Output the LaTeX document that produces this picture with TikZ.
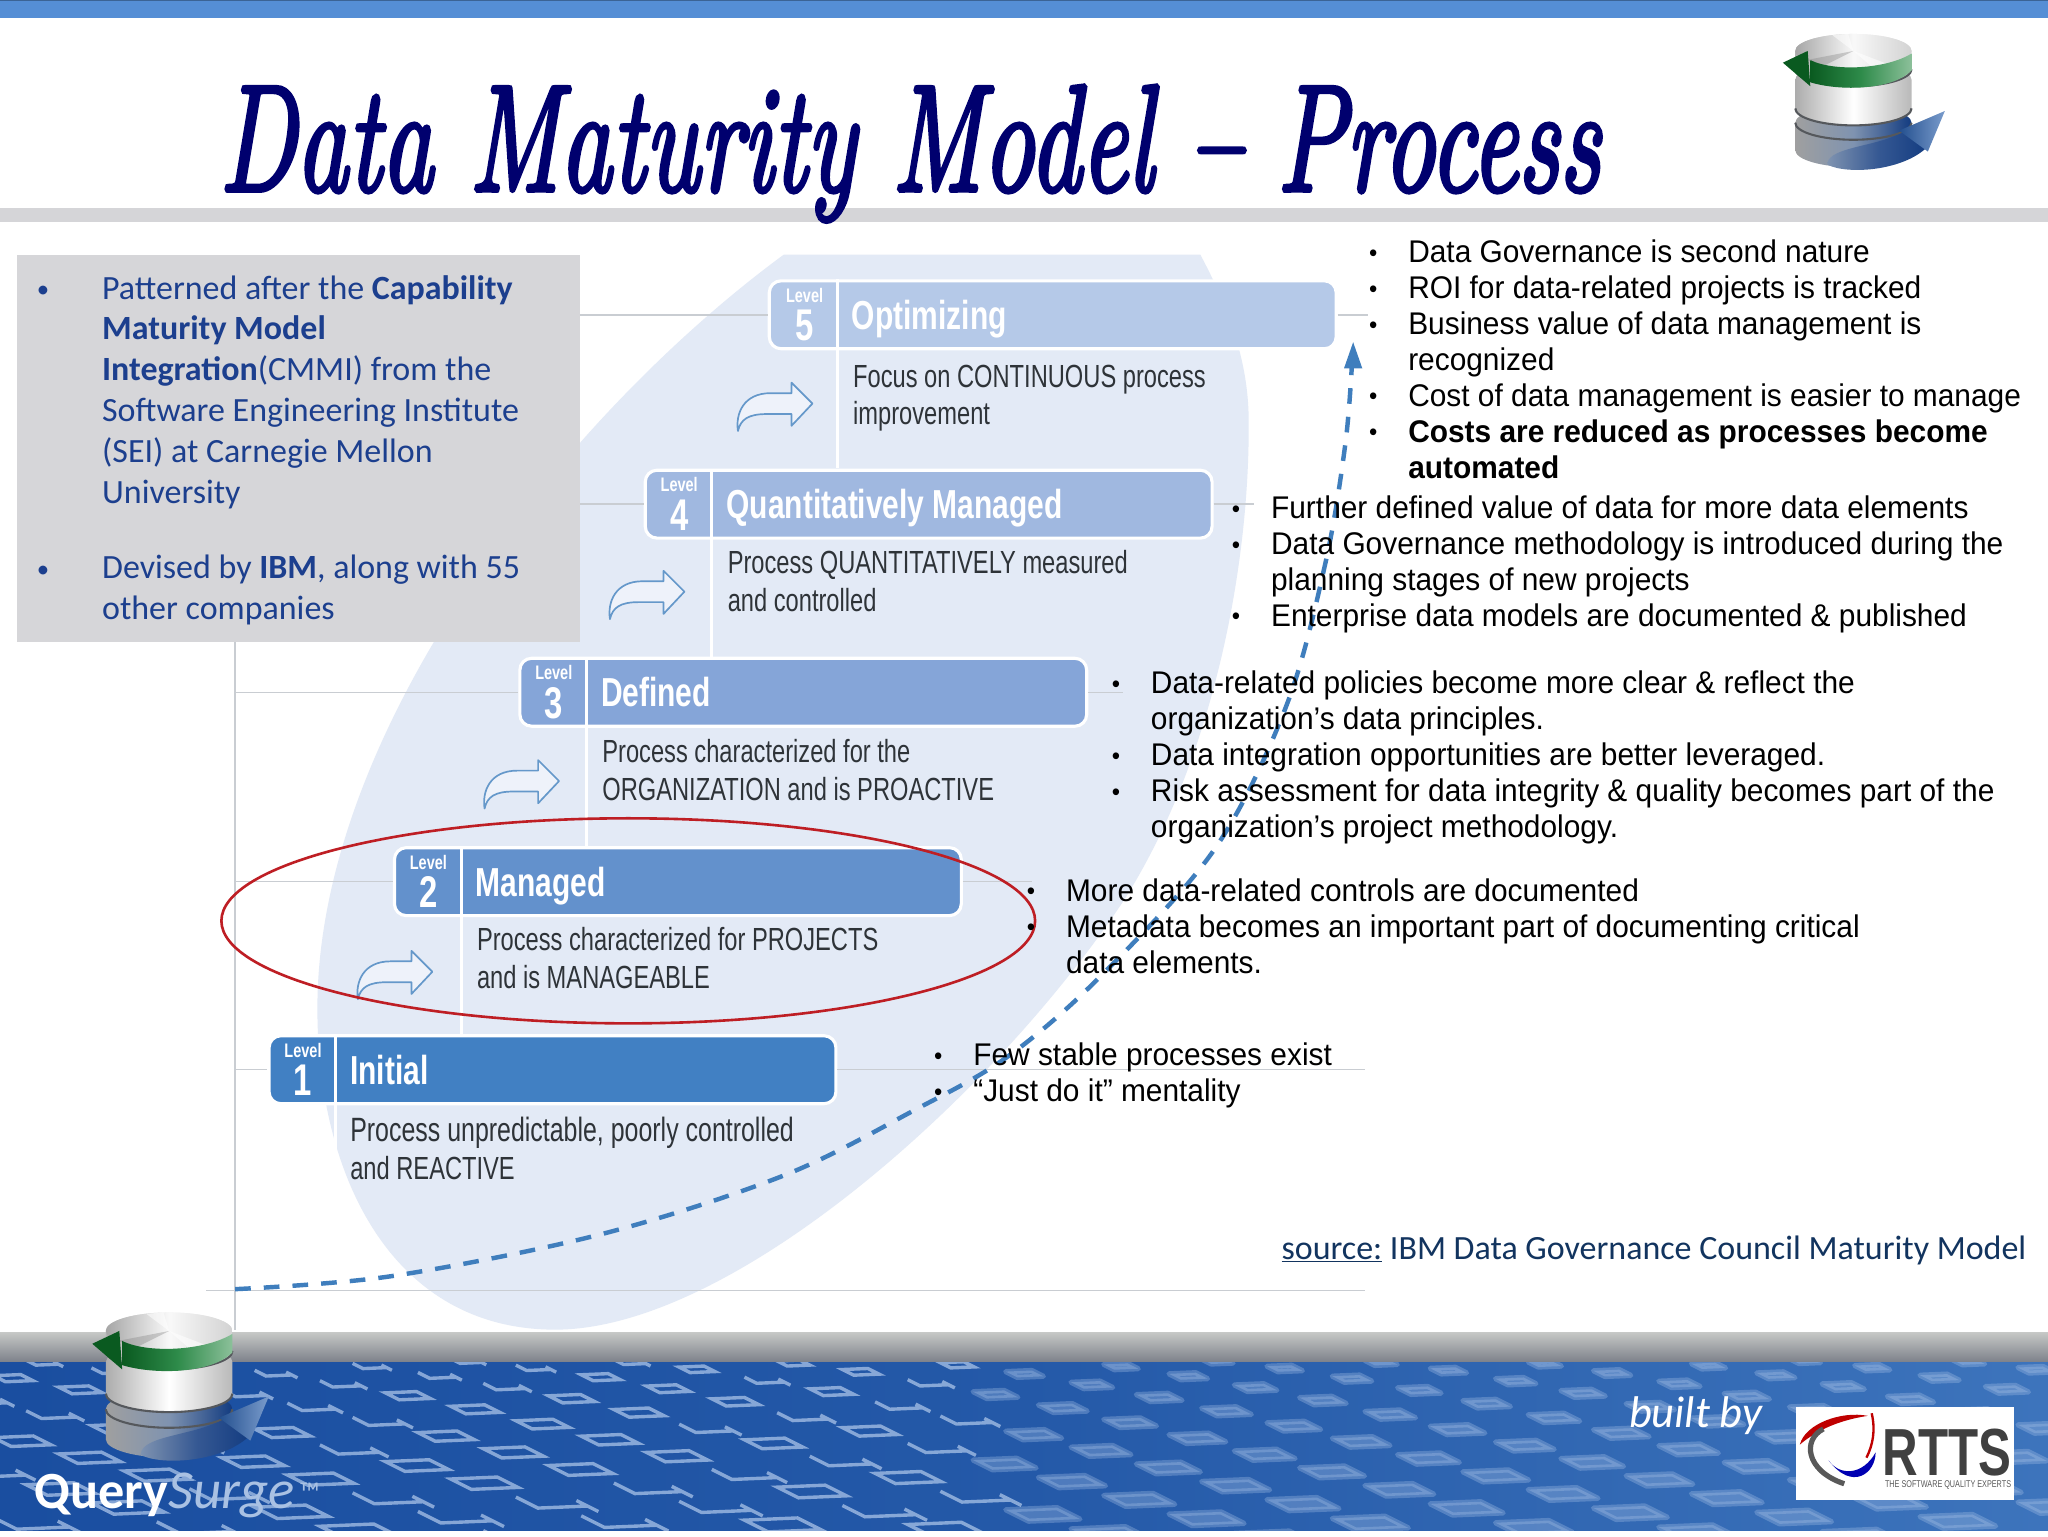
\documentclass[tikz,border=0pt]{standalone}
\usepackage{graphicx}
\usepackage{fontspec}
\usetikzlibrary{arrows.meta,shapes.geometric}
\setmainfont{Liberation Sans}[FakeStretch=0.953]
\newfontfamily\calfam{Carlito}
\newfontfamily\narrowfam[FakeStretch=0.74]{Liberation Sans}
\font\titlefont="[lmroman10-italic]:embolden=3" at 116pt
\definecolor{barblue}{HTML}{558ED5}
\definecolor{rule}{HTML}{D5D5D8}
\definecolor{panelgray}{HTML}{D6D6D9}
\definecolor{leaf}{HTML}{E3EAF6}
\definecolor{guide}{HTML}{C9CDD2}
\definecolor{titlenavy}{HTML}{00006E}
\definecolor{panelblue}{HTML}{1C3F8E}
\definecolor{curveblue}{HTML}{3F7EBD}
\definecolor{ringred}{HTML}{BE1E24}
\definecolor{srcblue}{HTML}{12345F}
\definecolor{descgray}{HTML}{2E3338}
\definecolor{lvA}{HTML}{4180C3}
\definecolor{lvB}{HTML}{6391CC}
\definecolor{lvC}{HTML}{85A5D8}
\definecolor{lvD}{HTML}{A0B8E0}
\definecolor{lvE}{HTML}{B5C9E8}
\definecolor{bandtop}{HTML}{C6C8C6}
\definecolor{bandbot}{HTML}{7C8089}
\definecolor{seaL}{HTML}{1A4EA0}
\definecolor{seaM}{HTML}{2459A8}
\definecolor{seaR}{HTML}{3D74BC}
\definecolor{digitc}{HTML}{A9C3E8}
\definecolor{surgec}{HTML}{A9C1E3}
\definecolor{dbnavy}{HTML}{123B80}
\definecolor{dbsteel}{HTML}{7F93B0}
\definecolor{dbheadL}{HTML}{24508F}
\definecolor{dbheadR}{HTML}{7A9CCC}
\definecolor{dbgreenL}{HTML}{0A5A20}
\definecolor{dbgreenM}{HTML}{2E8B4A}
\definecolor{dbgreenR}{HTML}{8CC09A}
\definecolor{dbdark}{HTML}{55585C}
\newcommand{\smallbul}{\raisebox{1pt}{\fontsize{19}{19}\selectfont •}}
\newcommand{\bitem}[1]{\makebox[30pt][l]{\smallbul}#1}
\newcommand{\cnt}[1]{\makebox[30pt][l]{}#1}
\tikzset{
  guideline/.style={guide,line width=1.1pt},
  levelbox/.style={draw=white,line width=2.4pt,rounded corners=9pt,minimum width=434pt,minimum height=52pt,inner sep=0pt},
  levelhead/.style={text=white,font=\narrowfam\bfseries\fontsize{31}{31}\selectfont,anchor=base west,inner sep=0pt},
  levelword/.style={text=white,font=\narrowfam\bfseries\fontsize{15}{15}\selectfont,inner sep=0pt},
  levelnum/.style={text=white,font=\narrowfam\bfseries\fontsize{34}{34}\selectfont,anchor=base,inner sep=0pt},
  desctext/.style={text=descgray,font=\narrowfam\fontsize{24.5}{29}\selectfont,align=left,anchor=north west,inner sep=0pt},
  listtext/.style={anchor=base west,inner sep=0pt,font=\fontsize{24}{27.5}\selectfont},
  bentarrow/.pic={
    \draw[curveblue!80!white,line width=1.3pt,fill=leaf!60!white,line join=round]
      (0,21) .. controls (-2,8) and (4,-8) .. (25,-8) -- (41,-8) -- (41,-16) -- (57,0) -- (41,17) -- (41,8) -- (22,8)
      .. controls (8,8) and (2,12) .. (0,21) -- cycle;
  },
  dbicon/.pic={
    \shade[left color=gray!75,right color=dbnavy,middle color=dbsteel]
      (-44.5,55) -- (-44.5,76) arc[start angle=180,end angle=0,x radius=44.5,y radius=13] -- (44.5,55) arc[start angle=0,end angle=-180,x radius=44.5,y radius=13] -- cycle;
    \draw[dbdark,line width=1.6pt] (-44.5,55) arc[start angle=180,end angle=0,x radius=44.5,y radius=13];
    \shade[left color=gray!65,right color=gray!55,middle color=white]
      (-44.5,22) -- (-44.5,44) arc[start angle=180,end angle=0,x radius=44.5,y radius=13] -- (44.5,22) arc[start angle=0,end angle=-180,x radius=44.5,y radius=13] -- cycle;
    \draw[dbdark,line width=1.6pt] (-44.5,44) arc[start angle=180,end angle=0,x radius=44.5,y radius=13];
    \shade[left color=gray!60,right color=gray!30,middle color=gray!5]
      (-44.5,0) -- (-44.5,14) arc[start angle=180,end angle=0,x radius=44.5,y radius=13] -- (44.5,0) arc[start angle=0,end angle=-180,x radius=44.5,y radius=13] -- cycle;
    \draw[dbdark,line width=1.6pt] (-44.5,14) arc[start angle=180,end angle=0,x radius=44.5,y radius=13];
    \shade[left color=gray!70,right color=gray!35,middle color=gray!5]
      (0,0) ellipse[x radius=44.5,y radius=13];
    \fill[white,opacity=0.55] (0,0) -- (-16,-12) -- (-4,-13) -- cycle;
    \fill[white,opacity=0.55] (0,0) -- (14,12) -- (26,10) -- cycle;
    \fill[gray,opacity=0.35] (0,0) -- (-36,7) -- (-22,11) -- cycle;
    \shade[left color=dbgreenL,right color=dbgreenR,middle color=dbgreenM]
      (-33,7) .. controls (-15,16) and (25,14) .. (44.5,2) -- (44.5,15) .. controls (30,30) and (-10,31) .. (-33,24) -- cycle;
    \fill[dbgreenL] (-35,0) -- (-54,9) -- (-33,27) -- cycle;
    \shade[left color=dbsteel,right color=dbnavy,middle color=dbnavy!85!white]
      (-20,87) .. controls (-20,72) and (25,74) .. (44.5,58) -- (58,72) .. controls (40,92) and (-5,95) .. (-20,87) -- cycle;
    \shade[left color=dbheadL,right color=dbheadR]
      (70,46) -- (57,77) -- (35,61) -- cycle;
  }
}
\begin{document}
\begin{tikzpicture}[x=1pt,y=-1pt]
\useasboundingbox (0,0) rectangle (1568,1176);
\fill[white] (0,0) rectangle (1568,1176);
\fill[barblue] (0,0) rectangle (1568,14);
\fill[barblue!70!black] (0,0) rectangle (1568,1);
\fill[rule] (0,159) rectangle (1568,170);
\fill[leaf] (600,195) .. controls (430,320) and (243,560) .. (243,772) .. controls (243,900) and (300,1018) .. (425,1018) .. controls (560,1018) and (760,840) .. (860,690) .. controls (930,580) and (957,430) .. (956,322) .. controls (956,270) and (935,225) .. (919,195) -- cycle;
\draw[guideline] (180,491) -- (180,1018);
\coordinate (baseL) at (158,988);
\coordinate (baseR) at (1045,988);
\draw[guide,line width=1.4pt] (baseL) -- (baseR);
\node[anchor=base west,inner sep=0pt,text=titlenavy] (title) at (168,146) {\resizebox{1057pt}{\height}{\titlefont Data Maturity Model – Process}};
\node[levelbox,fill=lvE] (l5) at (806,241) {};
\node[levelbox,fill=lvD] (l4) at (711,386) {};
\node[levelbox,fill=lvC] (l3) at (615,530) {};
\node[levelbox,fill=lvB] (l2) at (519,675) {};
\node[levelbox,fill=lvA] (l1) at (423,819) {};
\node[fill=panelgray,minimum width=431pt,minimum height=296pt,inner sep=0pt,anchor=north west] (panel) at (13,195) {};
\coordinate (a5) at (1047,241); \coordinate (a4) at (960,386); \coordinate (a3) at (860,530); \coordinate (a2) at (790,675); \coordinate (a1) at (1045,819);
\coordinate (v3) at (180,530); \coordinate (v2) at (180,675); \coordinate (v1) at (180,819);
\draw[guideline] (panel.east |- l5.west) -- (l5.west);
\draw[guideline] (panel.east |- l4.west) -- (l4.west);
\draw[guideline] (v3) -- (l3.west);
\draw[guideline] (v2) -- (l2.west);
\draw[guideline] (v1) -- (l1.west);
\draw[guideline] (l5.east) -- (a5);
\draw[guideline] (l4.east) -- (a4);
\draw[guideline] (l3.east) -- (a3);
\draw[guideline] (l2.east) -- (a2);
\draw[guideline] (l1.east) -- (a1);
\foreach \n/\x/\e in {l5/641/358,l4/545/504,l3/449/648,l2/353/792,l1/257/905}{
  \draw[white,line width=2.4pt] (\x,0 |- \n.north) -- (\x,\e);
}
\foreach \n/\x/\v/\h/\yc in {l5/616/5/Optimizing/241,l4/520/4/Quantitatively Managed/386,l3/424/3/Defined/530,l2/328/2/Managed/675,l1/232/1/Initial/819}{
  \node[levelword] (word\v) at (\x,\yc-15) {Level};
  \node[levelnum] (num\v) at (\x,\yc+20) {\v};
  \node[levelhead] (head\v) at (\x+36,\yc+11) {\h};
}
\node[desctext] (d5) at (653,279) {Focus on CONTINUOUS process\\improvement};
\node[desctext] (d4) at (557,421) {Process QUANTITATIVELY measured\\and controlled};
\node[desctext] (d3) at (461,566) {Process characterized for the\\ORGANIZATION and is PROACTIVE};
\node[desctext] (d2) at (365,710) {Process characterized for PROJECTS\\and is MANAGEABLE};
\node[desctext] (d1) at (268,855) {{\fontsize{25.8}{29}\selectfont Process unpredictable, poorly controlled}\\and REACTIVE};
\pic at (565,309) {bentarrow};
\pic at (467,453) {bentarrow};
\pic at (371,598) {bentarrow};
\pic at (274,744) {bentarrow};
\coordinate (cstart) at (180,987);
\coordinate (ctip) at (1036,262);
\draw[curveblue,line width=3.4pt,dash pattern=on 12pt off 10pt] plot[smooth,tension=0.55] coordinates {(cstart) (300,977) (460,945) (600,900) (700,850) (770,810) (840,750) (930,650) (985,540) (1015,430) (1030,340) (1035,280)};
\fill[curveblue] (ctip) -- (1043,282) -- (1029,282) -- cycle;
\node[draw=ringred,line width=2pt,ellipse,minimum width=623pt,minimum height=157pt,inner sep=0pt] (ring) at (481,705) {};
\node[anchor=base west,inner sep=0pt,text=panelblue,font=\calfam\fontsize{26}{31.3}\selectfont] (ptext) at (28,229) {%
\begin{tabular}[t]{@{}l@{}l@{}}
\makebox[50pt][l]{\smallbul}&Patterned after the \textbf{Capability}\\
&\textbf{Maturity Model}\\
&\textbf{Integration}(CMMI) from the\\
&Software Engineering Institute\\
&(SEI) at Carnegie Mellon\\
&University\\[26pt]
\makebox[50pt][l]{\smallbul}&Devised by \textbf{IBM}, along with 55\\
&other companies
\end{tabular}};
\node[listtext] (b5) at (1048,201) {\begin{tabular}[t]{@{}l@{}}
\bitem{Data Governance is second nature}\\
\bitem{ROI for data-related projects is tracked}\\
\bitem{Business value of data management is}\\
\cnt{recognized}\\
\bitem{Cost of data management is easier to manage}\\
\bitem{\textbf{Costs are reduced as processes become}}\\
\cnt{\textbf{automated}}
\end{tabular}};
\node[listtext] (b4) at (943,397) {\begin{tabular}[t]{@{}l@{}}
\bitem{Further defined value of data for more data elements}\\
\bitem{Data Governance methodology is introduced during the}\\
\cnt{planning stages of new projects}\\
\bitem{Enterprise data models are documented \& published}
\end{tabular}};
\node[listtext] (b3) at (851,531) {\begin{tabular}[t]{@{}l@{}}
\bitem{Data-related policies become more clear \& reflect the}\\
\cnt{organization’s data principles.}\\
\bitem{Data integration opportunities are better leveraged.}\\
\bitem{Risk assessment for data integrity \& quality becomes part of the}\\
\cnt{organization’s project methodology.}
\end{tabular}};
\node[listtext] (b2) at (786,690) {\begin{tabular}[t]{@{}l@{}}
\bitem{More data-related controls are documented}\\
\bitem{Metadata becomes an important part of documenting critical}\\
\cnt{data elements.}
\end{tabular}};
\node[listtext] (b1) at (715,816) {\begin{tabular}[t]{@{}l@{}}
\bitem{Few stable processes exist}\\
\bitem{“Just do it” mentality}
\end{tabular}};
\node[anchor=base west,inner sep=0pt,text=srcblue,font=\calfam\fontsize{26}{30}\selectfont] (source) at (981,964) {\underline{source:} IBM Data Governance Council Maturity Model};
\shade[top color=bandtop,bottom color=bandbot] (0,1020) rectangle (1568,1043);
\shade[left color=seaL,right color=seaR,middle color=seaM] (0,1043) rectangle (1568,1172);
\begin{scope}
\clip (0,1043) rectangle (1568,1172);
\pgfmathsetseed{11}
\foreach \r in {0,...,24}{
  \pgfmathsetmacro\yz{1190-\r*25}
  \foreach \c in {0,...,36}{
    \pgfmathsetmacro\px{\c*50+mod(\r,2)*25-30}
    \pgfmathsetmacro\py{\yz+\px*0.22}
    \pgfmathtruncatemacro\inband{(\py>1040 && \py<1200) ? 1 : 0}
    \ifnum\inband=1
      \pgfmathsetmacro\tval{(\py-1040)/130}
      \pgfmathsetmacro\qy{1040+130*pow(\tval,1.35)}
      \pgfmathsetmacro\scl{0.45+0.7*\tval}
      \pgfmathsetmacro\ax{36*\scl}
      \pgfmathsetmacro\ay{-1.5*\scl}
      \pgfmathsetmacro\bx{16*\scl}
      \pgfmathsetmacro\by{8*\scl}
      \pgfmathrandominteger\dg{0}{1}
      \pgfmathtruncatemacro\blur{\px>740 ? 1 : 0}
      \ifnum\blur=1
        \draw[digitc,opacity=0.32,fill=digitc,line width=4pt,line join=round]
          (\px,\qy) -- ++(\ax,\ay) -- ++(\bx,\by) -- ++(-\ax,-\ay) -- cycle;
      \else
        \ifnum\dg=0
          \draw[digitc,opacity=0.75,line width=2.6pt]
            (\px,\qy) -- ++(\ax,\ay) -- ++(\bx,\by) -- ++(-\ax,-\ay) -- cycle;
        \else
          \draw[digitc,opacity=0.75,line width=2.6pt]
            (\px,\qy) -- ++(\bx,\by) -- ++(\ax,\ay) ++(-0.5*\bx,-0.5*\by) -- ++(\bx,\by);
        \fi
      \fi
    \fi
  }
}
\end{scope}
\pic at (1419,39) {dbicon};
\pic[scale=1.09] at (129.5,1019) {dbicon};
\node[anchor=base west,inner sep=0pt,text=white,font=\calfam\bfseries\fontsize{40}{40}\selectfont] (query) at (26,1155) {Query};
\node[anchor=base west,inner sep=0pt,text=surgec,font=\calfam\itshape\fontsize{42}{42}\selectfont] (surge) at (query.base east) {Surge};
\node[anchor=base west,inner sep=0pt,text=surgec,font=\calfam\fontsize{22}{22}\selectfont] (tm) at (229,1150) {™};
\node[anchor=base west,inner sep=0pt,text=white,font=\calfam\itshape\fontsize{34}{34}\selectfont] (built) at (1247,1093) {built by};
\node[fill=white,minimum width=167pt,minimum height=71pt,inner sep=0pt,anchor=north west] (logo) at (1375,1077) {};
\fill[red!75!black] (1378,1106) .. controls (1382,1090) and (1410,1080) .. (1430,1084) .. controls (1410,1087) and (1392,1094) .. (1378,1106) -- cycle;
\fill[blue!70!black] (1436,1112) .. controls (1436,1128) and (1418,1142) .. (1400,1118) .. controls (1408,1130) and (1426,1130) .. (1436,1112) -- cycle;
\draw[gray!70!black,line width=4pt] (1412,1136) .. controls (1382,1126) and (1380,1102) .. (1396,1094);
\draw[red!75!black,line width=1.8pt] (1433,1082) .. controls (1436,1095) and (1434,1106) .. (1429,1116);
\node[anchor=base west,inner sep=0pt,text=gray!50!black,font=\narrowfam\bfseries\fontsize{51}{51}\selectfont] (rtts) at (1441,1130) {RTTS};
\node[anchor=base west,inner sep=0pt,text=gray!70!black,font=\narrowfam\fontsize{7.5}{8}\selectfont] (rttssub) at (1443,1139) {THE SOFTWARE QUALITY EXPERTS};
\fill[white] (0,1172) rectangle (1568,1176);
\end{tikzpicture}
\end{document}
